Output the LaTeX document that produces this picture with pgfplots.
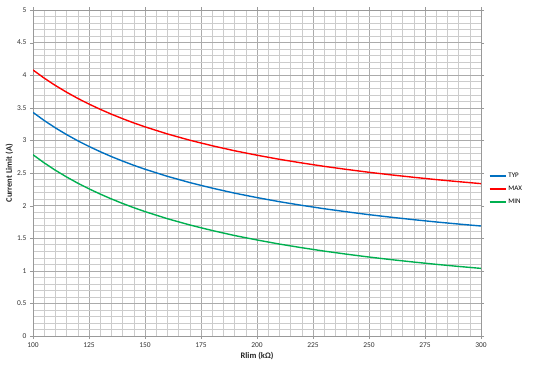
\documentclass[border=0pt]{standalone}
\usepackage{fontspec}
\setmainfont{Carlito}
\usepackage{pgfplots}
\pgfplotsset{compat=1.18}
\definecolor{cblue}{RGB}{0,112,192}
\definecolor{cred}{RGB}{255,0,0}
\definecolor{cgreen}{RGB}{0,176,80}
\begin{document}
\begin{tikzpicture}[x=1bp,y=1bp]
\useasboundingbox (-33bp,-33bp) rectangle (504bp,336bp);
\begin{axis}[
  at={(0,0)}, anchor=south west,
  scale only axis, width=448bp, height=326bp,
  xmin=100, xmax=300, ymin=0, ymax=5,
  xtick={100,125,...,300}, ytick={0,0.5,...,5},
  minor x tick num=4, minor y tick num=4,
  grid=both,
  major grid style={color=black!33, line width=0.6pt},
  minor grid style={color=black!20, line width=0.5pt},
  axis line style={color=black!40},
  tick align=outside, major tick length=3bp, minor tick length=0pt,
  tick style={color=black!40},
  tick label style={font=\fontsize{7.5}{9}\selectfont, color=black!80},
  /pgf/number format/assume math mode=true,
  xlabel={Rlim (kΩ)}, ylabel={Current Limit (A)},
  label style={font=\bfseries\fontsize{8.5}{10}\selectfont, color=black!85},
  xlabel style={yshift=2bp},
  ylabel style={yshift=-3bp},
  legend style={at={(1.01,0.45)}, anchor=west, draw=none, fill=none,
    font=\fontsize{7}{8}\selectfont, row sep=3bp},
  legend cell align=left,
  legend image code/.code={\draw[#1, line width=1.8pt] (0bp,0bp) -- (16bp,0bp);},
]
\addplot[cblue, line width=1.4pt] coordinates {
(100,3.430) (105,3.305) (110,3.192) (115,3.089) (120,2.994) (125,2.907) (130,2.827) (135,2.752) (140,2.683) (145,2.618) (150,2.558)
(160,2.449) (170,2.353) (180,2.268) (190,2.191) (200,2.123) (210,2.060)
(220,2.004) (230,1.952) (240,1.905) (250,1.861) (260,1.821) (270,1.784)
(280,1.749) (290,1.717) (300,1.687)};
\addlegendentry{TYP}
\addplot[cred, line width=1.4pt] coordinates {
(100,4.080) (105,3.955) (110,3.842) (115,3.739) (120,3.644) (125,3.557) (130,3.477) (135,3.402) (140,3.333) (145,3.268) (150,3.208)
(160,3.099) (170,3.003) (180,2.918) (190,2.841) (200,2.773) (210,2.710)
(220,2.654) (230,2.602) (240,2.555) (250,2.511) (260,2.471) (270,2.434)
(280,2.399) (290,2.367) (300,2.337)};
\addlegendentry{MAX}
\addplot[cgreen, line width=1.4pt] coordinates {
(100,2.780) (105,2.655) (110,2.542) (115,2.439) (120,2.344) (125,2.257) (130,2.177) (135,2.102) (140,2.033) (145,1.968) (150,1.908)
(160,1.799) (170,1.703) (180,1.618) (190,1.541) (200,1.473) (210,1.410)
(220,1.354) (230,1.302) (240,1.255) (250,1.211) (260,1.171) (270,1.134)
(280,1.099) (290,1.067) (300,1.037)};
\addlegendentry{MIN}
\end{axis}
\end{tikzpicture}
\end{document}
